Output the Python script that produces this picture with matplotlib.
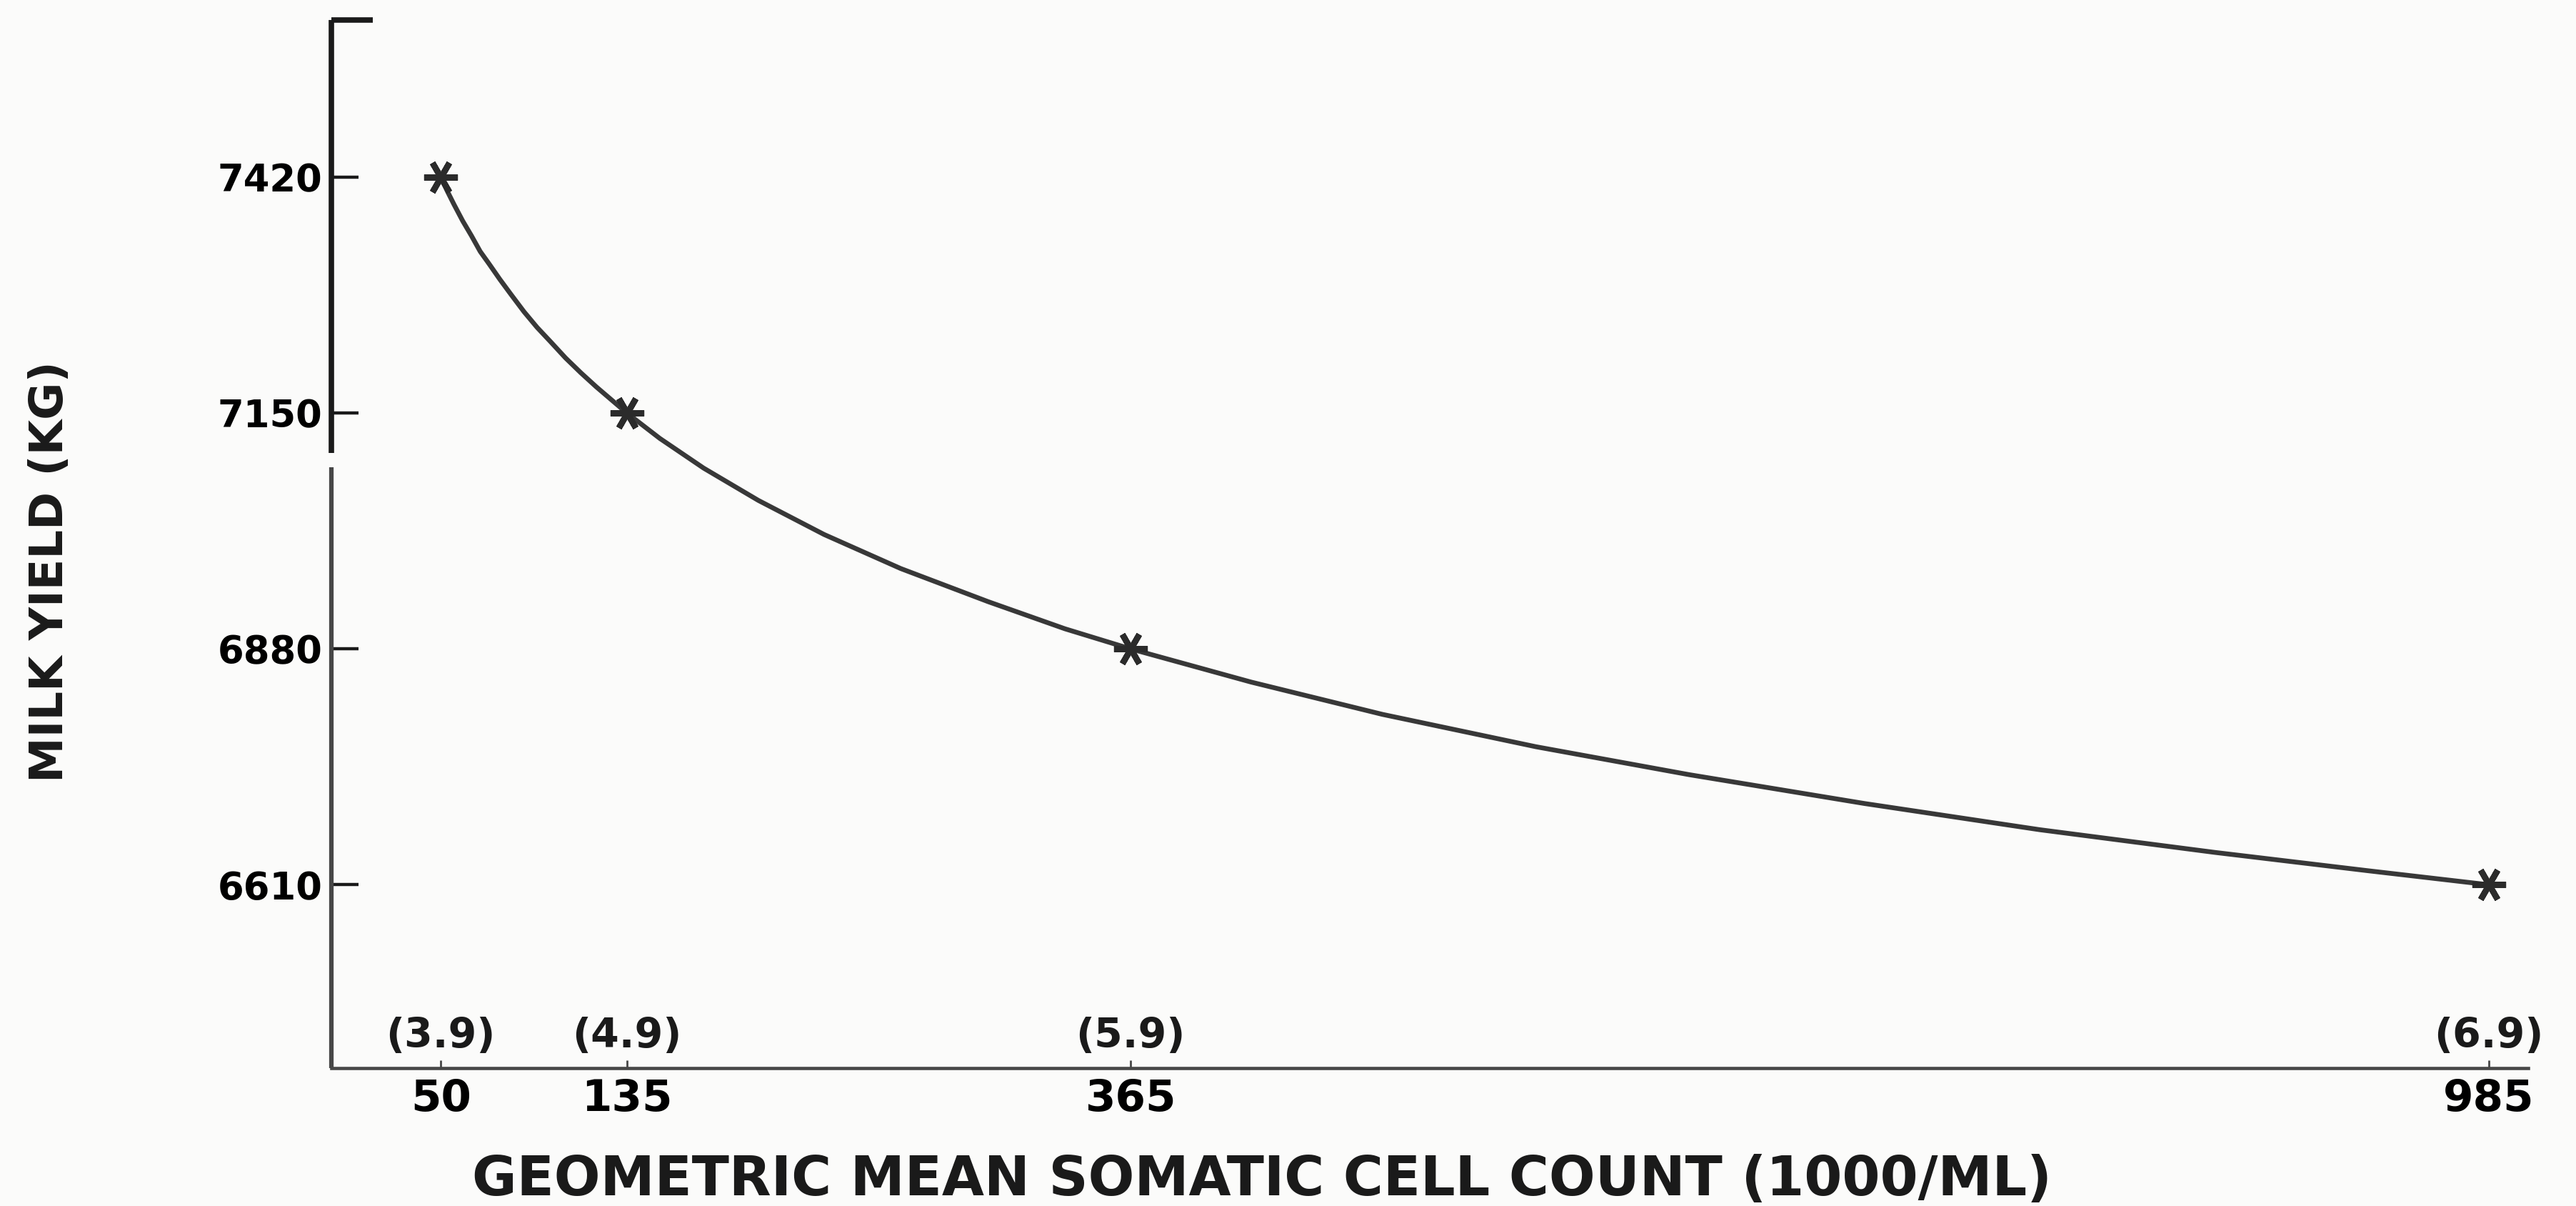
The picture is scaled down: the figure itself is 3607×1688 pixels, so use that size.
import matplotlib
matplotlib.use('Agg')
import matplotlib.pyplot as plt
from matplotlib.ticker import FixedLocator

plt.rcParams['font.family'] = ['DejaVu Sans']

# Herd means: somatic cell count (1000/ml), linear score and milk yield
scc = [50, 135, 365, 985]
milk_yield = [7420, 7150, 6880, 6610]
log_score = ['(3.9)', '(4.9)', '(5.9)', '(6.9)']

# Fitted curve through the means, traced point by point
curve_scc = [50, 53, 56, 60, 64, 68, 72, 77, 82, 88, 94, 100, 107, 114, 121, 128, 135,
             150, 170, 195, 225, 260, 300, 335, 365,
             420, 480, 550, 620, 700, 780, 860, 930, 985]
curve_yield = [7420, 7404, 7389, 7370, 7353, 7335, 7321, 7303, 7286, 7266, 7248, 7232,
               7213, 7196, 7180, 7165, 7150,
               7121, 7087, 7050, 7011, 6972, 6934, 6903, 6880,
               6842, 6805, 6768, 6736, 6703, 6673, 6647, 6626, 6610]

x_lim = (0, 1003)
y_lim = (6400, 7600)
axis_break = (7088, 7104)   # gap drawn in the y axis
hook_len = 19               # short cap at the top of the y axis

ink = '#1a1a1a'
grey = '#474747'

fig = plt.figure(figsize=(36.07, 16.88), dpi=100, facecolor='#fbfbfa')
ax = fig.add_axes([0.1286, 0.1143, 0.8528, 0.8691])
ax.set_facecolor('none')
ax.set_xlim(*x_lim)
ax.set_ylim(*y_lim)

# curve and asterisk markers
ax.plot(curve_scc, curve_yield, color='#383838', lw=4.8, solid_capstyle='round',
        solid_joinstyle='round', zorder=2)
ax.plot(scc, milk_yield, ls='none', marker=(6, 2, 90), ms=34, mew=6,
        mec='#2b2b2b', zorder=3)

# axes frame: plain bottom line, broken left line with a cap on top
for side in ['top', 'right', 'left']:
    ax.spines[side].set_visible(False)
ax.spines['bottom'].set_color(grey)
ax.spines['bottom'].set_linewidth(3.3)

yt = ax.get_yaxis_transform()
ax.plot([0, 0], [axis_break[1], y_lim[1]], transform=yt, color=ink, lw=5.5,
        clip_on=False, solid_capstyle='butt')
ax.plot([0, 0], [y_lim[0], axis_break[0]], transform=yt, color=grey, lw=4.5,
        clip_on=False, solid_capstyle='butt')
ax.plot([0, hook_len], [y_lim[1], y_lim[1]], color=ink, lw=5.5,
        clip_on=False, solid_capstyle='butt')

# y ticks
ax.set_yticks(milk_yield)
ax.set_yticklabels([str(v) for v in milk_yield])
ax.tick_params(axis='y', which='major', direction='in', length=27, width=3.2,
               color=ink, pad=9, labelsize=38)
ax.yaxis.set_minor_locator(FixedLocator([milk_yield[1]]))
ax.tick_params(axis='y', which='minor', direction='out', length=12, width=3.2, color=ink)
for lab in ax.get_yticklabels():
    lab.set_fontweight('bold')

# x ticks
ax.set_xticks(scc)
ax.set_xticklabels([str(v) for v in scc])
ax.tick_params(axis='x', direction='in', length=8, width=2, color=grey,
               pad=10, labelsize=44)
for lab in ax.get_xticklabels():
    lab.set_fontweight('bold')

# linear score above each tick
for x, lab in zip(scc, log_score):
    ax.annotate(lab, (x, y_lim[0]), xytext=(0, 12), textcoords='offset points',
                ha='center', va='bottom', fontsize=41, fontweight='bold', color=ink)

ax.set_xlabel('GEOMETRIC MEAN SOMATIC CELL COUNT (1000/ML)', fontsize=55,
              fontweight='bold', va='center', color=ink)
ax.xaxis.set_label_coords(0.4236, -0.107)
ax.set_ylabel('MILK YIELD (KG)', fontsize=46, fontweight='bold', va='center', color=ink)
ax.yaxis.set_label_coords(-0.128, 0.474)

fig.savefig('out.png', dpi=100, facecolor=fig.get_facecolor())
